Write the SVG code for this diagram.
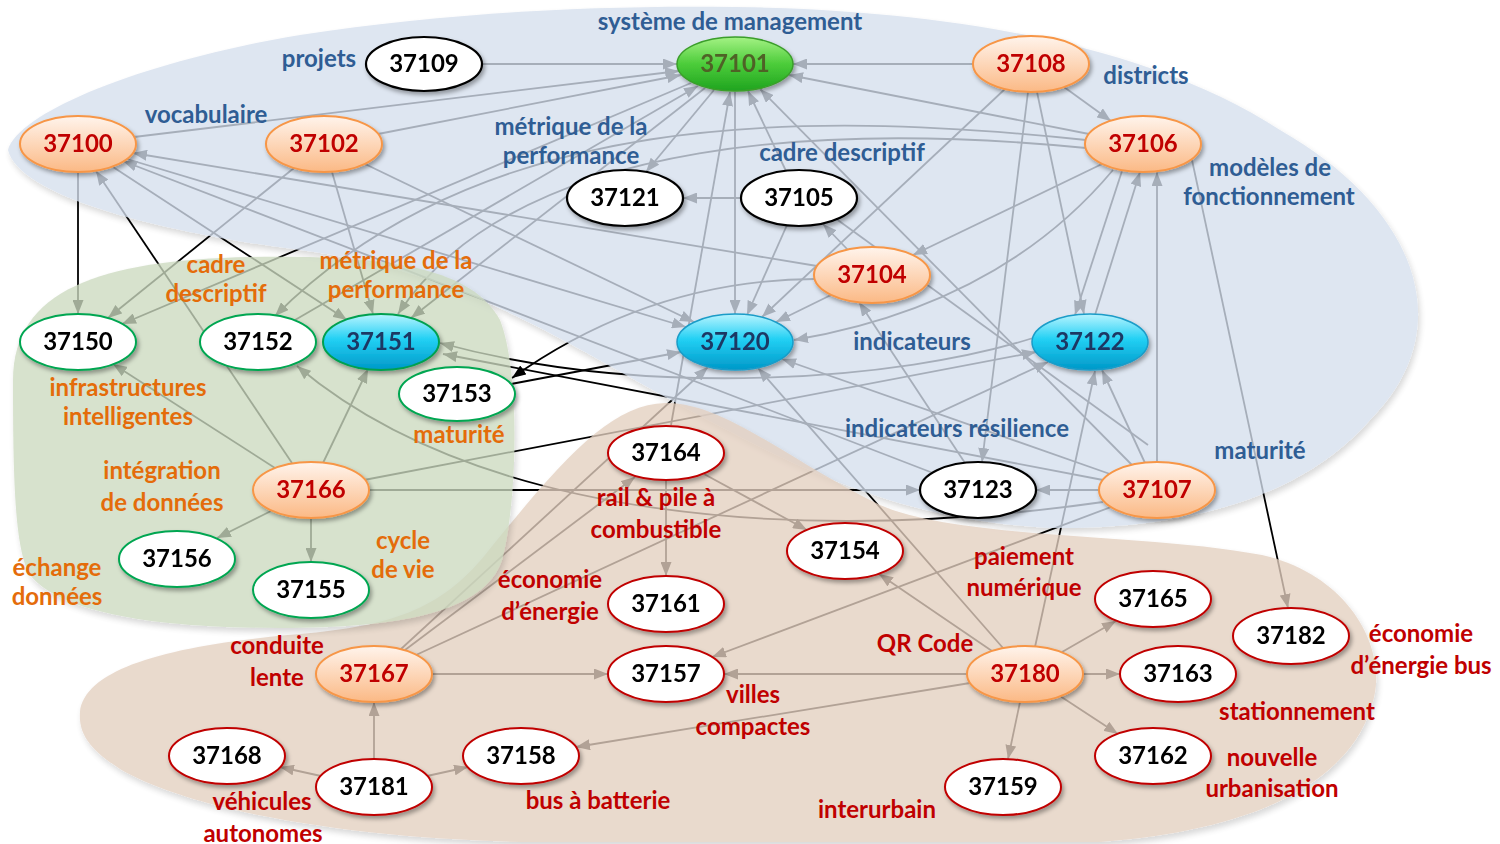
<svg xmlns="http://www.w3.org/2000/svg" width="1500" height="844" viewBox="0 0 1500 844">
<defs>
<style>
.c{fill:none;stroke:#000;stroke-width:1.8;marker-end:url(#ah)}
.c0{fill:none;stroke:#000;stroke-width:1.8}
.reg{opacity:0.78}
.node{filter:url(#sh)}
.nw{fill:#fff;stroke:#000;stroke-width:2.2}
.ng{fill:#fff;stroke:#00a651;stroke-width:2}
.nr{fill:#fff;stroke:#c00000;stroke-width:2}
.no{fill:url(#gOr);stroke:#f79646;stroke-width:2}
.nc{fill:url(#gCy);stroke:#1a9cc8;stroke-width:1.5}
.ncg{fill:url(#gCy);stroke:#00a050;stroke-width:2}
.ngr{fill:url(#gGr);stroke:#3a9e2a;stroke-width:1.5}
text{font-family:Lato,"Open Sans","Liberation Sans",sans-serif;font-weight:700;text-anchor:middle}
.nt{font-size:24px;fill:#000}
.ntr{font-size:24px;fill:#c00000}
.ntb{font-size:24px;fill:#1f3864}
.ntg{font-size:24px;fill:#4f6228}
.lb{font-size:24px;fill:#2f5d94}
.lo{font-size:24px;fill:#e46c0a}
.lr{font-size:24px;fill:#c00000}
</style>
<marker id="ah" viewBox="0 0 10 10" refX="10" refY="5" markerWidth="14" markerHeight="11" markerUnits="userSpaceOnUse" orient="auto" preserveAspectRatio="none"><path d="M0,0 L10,5 L0,10 z" fill="#000"/></marker>
<linearGradient id="gOr" x1="0" y1="0" x2="0" y2="1"><stop offset="0" stop-color="#fff4ec"/><stop offset="1" stop-color="#fbb985"/></linearGradient>
<linearGradient id="gGr" x1="0" y1="0" x2="0" y2="1"><stop offset="0" stop-color="#a4f284"/><stop offset="0.5" stop-color="#4ccc3a"/><stop offset="1" stop-color="#1fa41f"/></linearGradient>
<linearGradient id="gCy" x1="0" y1="0" x2="0" y2="1"><stop offset="0" stop-color="#b8f4ff"/><stop offset="0.45" stop-color="#22d0f4"/><stop offset="1" stop-color="#0098c8"/></linearGradient>
<filter id="sh" x="-20%" y="-30%" width="150%" height="170%"><feDropShadow dx="2" dy="3" stdDeviation="2" flood-color="#000" flood-opacity="0.35"/></filter>
<filter id="rsh" x="-5%" y="-5%" width="110%" height="115%"><feDropShadow dx="2" dy="4" stdDeviation="3" flood-color="#000" flood-opacity="0.2"/></filter>
</defs>
<rect width="1500" height="844" fill="#fff"/>
<g id="connectors">
<line class="c" x1="482" y1="64" x2="677" y2="64"/>
<line class="c" x1="973" y1="64" x2="793" y2="64"/>
<line class="c" x1="134" y1="137" x2="679" y2="71"/>
<line class="c" x1="378" y1="134" x2="681" y2="75"/>
<line class="c" x1="295" y1="320" x2="698" y2="86"/>
<line class="c" x1="1089" y1="134" x2="789" y2="75"/>
<line class="c" x1="1132" y1="465" x2="760" y2="89"/>
<line class="c" x1="786" y1="171" x2="748" y2="91"/>
<line class="c" x1="671" y1="425" x2="730" y2="92"/>
<line class="c" x1="735" y1="92" x2="735" y2="314"/>
<line class="c" x1="714" y1="90" x2="646" y2="172"/>
<line class="c" x1="705" y1="88" x2="411" y2="318"/>
<line class="c" x1="691" y1="83" x2="122" y2="324"/>
<line class="c" x1="741" y1="198" x2="683" y2="198"/>
<line class="c" x1="787" y1="225" x2="747" y2="315"/>
<line class="c" x1="848" y1="250" x2="823" y2="224"/>
<line class="c" x1="831" y1="295" x2="776" y2="322"/>
<line class="c" x1="1005" y1="89" x2="762" y2="317"/>
<line class="c" x1="1064" y1="87" x2="1111" y2="121"/>
<line class="c" x1="1037" y1="92" x2="1084" y2="314"/>
<line class="c" x1="1028" y1="92" x2="982" y2="462"/>
<line class="c" x1="1122" y1="171" x2="1075" y2="315"/>
<line class="c" x1="1095" y1="315" x2="1140" y2="172"/>
<line class="c" x1="1157" y1="462" x2="1157" y2="172"/>
<line class="c" x1="1192" y1="160" x2="1288" y2="608"/>
<line class="c" x1="1102" y1="164" x2="913" y2="255"/>
<path class="c" d="M1113,170 Q1000,305 794,340"/>
<path class="c" d="M1086,140 C800,110 480,110 275,316"/>
<path class="c" d="M1086,148 C850,125 520,130 398,314"/>
<line class="c" x1="78" y1="172" x2="78" y2="314"/>
<line class="c" x1="292" y1="463" x2="96" y2="171"/>
<line class="c" x1="113" y1="167" x2="347" y2="320"/>
<line class="c" x1="817" y1="266" x2="133" y2="153"/>
<line class="c" x1="127" y1="159" x2="686" y2="327"/>
<line class="c" x1="933" y1="473" x2="123" y2="161"/>
<line class="c" x1="332" y1="172" x2="373" y2="314"/>
<line class="c" x1="294" y1="168" x2="108" y2="318"/>
<line class="c" x1="365" y1="164" x2="694" y2="322"/>
<path class="c" d="M815,279 Q650,280 512,378"/>
<line class="c" x1="511" y1="384" x2="681" y2="352"/>
<line class="c" x1="364" y1="480" x2="1036" y2="352"/>
<line class="c" x1="416" y1="655" x2="1048" y2="362"/>
<line class="c" x1="405" y1="650" x2="635" y2="477"/>
<line class="c" x1="401" y1="649" x2="708" y2="367"/>
<line class="c" x1="432" y1="674" x2="608" y2="674"/>
<line class="c" x1="374" y1="759" x2="374" y2="702"/>
<line class="c" x1="321" y1="776" x2="280" y2="767"/>
<line class="c" x1="427" y1="776" x2="468" y2="767"/>
<line class="c" x1="666" y1="481" x2="666" y2="576"/>
<line class="c" x1="704" y1="474" x2="807" y2="530"/>
<line class="c" x1="967" y1="674" x2="724" y2="674"/>
<line class="c" x1="970" y1="683" x2="576" y2="747"/>
<line class="c" x1="992" y1="651" x2="879" y2="574"/>
<line class="c" x1="1062" y1="652" x2="1116" y2="621"/>
<line class="c" x1="1083" y1="674" x2="1120" y2="674"/>
<line class="c" x1="1060" y1="696" x2="1118" y2="734"/>
<line class="c" x1="1020" y1="702" x2="1008" y2="759"/>
<line class="c" x1="1035" y1="647" x2="1095" y2="371"/>
<line class="c" x1="1003" y1="648" x2="758" y2="368"/>
<line class="c" x1="1099" y1="490" x2="1036" y2="490"/>
<line class="c" x1="1145" y1="463" x2="1102" y2="370"/>
<line class="c" x1="1110" y1="474" x2="782" y2="359"/>
<line class="c" x1="1111" y1="507" x2="712" y2="657"/>
<line class="c" x1="1103" y1="480" x2="443" y2="354"/>
<path class="c" d="M1033,338 C900,380 650,400 440,343"/>
<path class="c" d="M1103,502 C800,545 480,520 297,366"/>
<line class="c" x1="965" y1="463" x2="859" y2="302"/>
<line class="c0" x1="835" y1="218" x2="1148" y2="445"/>
<line class="c" x1="369" y1="490" x2="920" y2="490"/>
<line class="c" x1="275" y1="468" x2="113" y2="364"/>
<line class="c" x1="323" y1="463" x2="368" y2="369"/>
<line class="c" x1="271" y1="511" x2="217" y2="538"/>
<line class="c" x1="311" y1="518" x2="311" y2="562"/>
</g>
<g id="regions">
<path id="region-blue" class="reg" filter="url(#rsh)" fill="#d5dfee" d="M8,150 C20,110 150,60 300,35 C450,12 600,5 735,7 C950,10 1150,45 1280,130 C1420,210 1460,330 1370,420 C1300,500 1180,530 1050,528 C900,520 800,470 680,405 C560,340 460,270 300,250 C180,235 20,200 8,150 Z"/>
<path id="region-brown" class="reg" filter="url(#rsh)" fill="#e4d0c0" d="M80,712 C85,668 170,645 300,634 C390,626 440,610 485,555 C560,462 610,404 665,403 C725,402 790,462 880,505 C960,540 1150,533 1262,555 C1350,575 1390,650 1372,705 C1350,780 1260,830 1100,842 L520,842 C350,838 200,812 125,772 C92,752 78,735 80,712 Z"/>
<path id="region-green" class="reg" filter="url(#rsh)" fill="#ccdac0" d="M13,380 C13,290 100,260 250,257 C380,255 470,265 500,320 C520,370 518,500 502,560 C485,612 400,628 280,628 C150,628 60,612 30,575 C14,550 13,470 13,380 Z"/>
</g>
<g id="labels">
<text class="lb" x="730" y="30">système de management</text>
<text class="lb" x="319" y="67">projets</text>
<text class="lb" x="206" y="123">vocabulaire</text>
<text class="lb" x="571" y="135">métrique de la</text>
<text class="lb" x="571" y="164">performance</text>
<text class="lb" x="842" y="161">cadre descriptif</text>
<text class="lb" x="1146" y="84">districts</text>
<text class="lb" x="1270" y="176">modèles de</text>
<text class="lb" x="1269" y="205">fonctionnement</text>
<text class="lb" x="912" y="350">indicateurs</text>
<text class="lb" x="957" y="437">indicateurs résilience</text>
<text class="lb" x="1260" y="459">maturité</text>
<text class="lo" x="216" y="273">cadre</text>
<text class="lo" x="216" y="302">descriptif</text>
<text class="lo" x="396" y="269">métrique de la</text>
<text class="lo" x="396" y="298">performance</text>
<text class="lo" x="128" y="396">infrastructures</text>
<text class="lo" x="128" y="425">intelligentes</text>
<text class="lo" x="459" y="443">maturité</text>
<text class="lo" x="162" y="479">intégration</text>
<text class="lo" x="162" y="511">de données</text>
<text class="lo" x="403" y="549">cycle</text>
<text class="lo" x="403" y="578">de vie</text>
<text class="lo" x="57" y="576">échange</text>
<text class="lo" x="57" y="605">données</text>
<text class="lr" x="656" y="506">rail &amp; pile à</text>
<text class="lr" x="656" y="538">combustible</text>
<text class="lr" x="550" y="588">économie</text>
<text class="lr" x="550" y="620">d’énergie</text>
<text class="lr" x="1024" y="565">paiement</text>
<text class="lr" x="1024" y="596">numérique</text>
<text class="lr" x="925" y="652">QR Code</text>
<text class="lr" x="1421" y="642">économie</text>
<text class="lr" x="1421" y="674">d’énergie bus</text>
<text class="lr" x="277" y="654">conduite</text>
<text class="lr" x="277" y="686">lente</text>
<text class="lr" x="753" y="703">villes</text>
<text class="lr" x="753" y="735">compactes</text>
<text class="lr" x="1297" y="720">stationnement</text>
<text class="lr" x="1272" y="766">nouvelle</text>
<text class="lr" x="1272" y="797">urbanisation</text>
<text class="lr" x="877" y="818">interurbain</text>
<text class="lr" x="598" y="809">bus à batterie</text>
<text class="lr" x="262" y="810">véhicules</text>
<text class="lr" x="263" y="842">autonomes</text>
</g>
<g id="nodes">
<g id="n37109" class="node"><ellipse class="nw" cx="424" cy="64" rx="58" ry="27"/><text class="nt" x="424" y="72">37109</text></g>
<g id="n37101" class="node"><ellipse class="ngr" cx="735" cy="64" rx="58" ry="27"/><text class="ntg" x="735" y="72">37101</text></g>
<g id="n37108" class="node"><ellipse class="no" cx="1031" cy="64" rx="58" ry="28"/><text class="ntr" x="1031" y="72">37108</text></g>
<g id="n37100" class="node"><ellipse class="no" cx="78" cy="144" rx="58" ry="28"/><text class="ntr" x="78" y="152">37100</text></g>
<g id="n37102" class="node"><ellipse class="no" cx="324" cy="144" rx="58" ry="28"/><text class="ntr" x="324" y="152">37102</text></g>
<g id="n37106" class="node"><ellipse class="no" cx="1143" cy="144" rx="58" ry="28"/><text class="ntr" x="1143" y="152">37106</text></g>
<g id="n37121" class="node"><ellipse class="nw" cx="625" cy="198" rx="58" ry="28"/><text class="nt" x="625" y="206">37121</text></g>
<g id="n37105" class="node"><ellipse class="nw" cx="799" cy="198" rx="58" ry="28"/><text class="nt" x="799" y="206">37105</text></g>
<g id="n37104" class="node"><ellipse class="no" cx="872" cy="275" rx="58" ry="28"/><text class="ntr" x="872" y="283">37104</text></g>
<g id="n37150" class="node"><ellipse class="ng" cx="78" cy="342" rx="58" ry="28"/><text class="nt" x="78" y="350">37150</text></g>
<g id="n37152" class="node"><ellipse class="ng" cx="258" cy="342" rx="58" ry="28"/><text class="nt" x="258" y="350">37152</text></g>
<g id="n37151" class="node"><ellipse class="ncg" cx="381" cy="342" rx="58" ry="28"/><text class="ntb" x="381" y="350">37151</text></g>
<g id="n37120" class="node"><ellipse class="nc" cx="735" cy="342" rx="58" ry="28"/><text class="ntb" x="735" y="350">37120</text></g>
<g id="n37122" class="node"><ellipse class="nc" cx="1090" cy="342" rx="58" ry="28"/><text class="ntb" x="1090" y="350">37122</text></g>
<g id="n37153" class="node"><ellipse class="ng" cx="457" cy="394" rx="58" ry="27"/><text class="nt" x="457" y="402">37153</text></g>
<g id="n37164" class="node"><ellipse class="nr" cx="666" cy="453" rx="58" ry="27"/><text class="nt" x="666" y="461">37164</text></g>
<g id="n37166" class="node"><ellipse class="no" cx="311" cy="490" rx="58" ry="28"/><text class="ntr" x="311" y="498">37166</text></g>
<g id="n37123" class="node"><ellipse class="nw" cx="978" cy="490" rx="58" ry="28"/><text class="nt" x="978" y="498">37123</text></g>
<g id="n37107" class="node"><ellipse class="no" cx="1157" cy="490" rx="58" ry="28"/><text class="ntr" x="1157" y="498">37107</text></g>
<g id="n37156" class="node"><ellipse class="ng" cx="177" cy="559" rx="58" ry="28"/><text class="nt" x="177" y="567">37156</text></g>
<g id="n37154" class="node"><ellipse class="nr" cx="845" cy="551" rx="58" ry="28"/><text class="nt" x="845" y="559">37154</text></g>
<g id="n37155" class="node"><ellipse class="ng" cx="311" cy="590" rx="58" ry="28"/><text class="nt" x="311" y="598">37155</text></g>
<g id="n37161" class="node"><ellipse class="nr" cx="666" cy="604" rx="58" ry="28"/><text class="nt" x="666" y="612">37161</text></g>
<g id="n37165" class="node"><ellipse class="nr" cx="1153" cy="599" rx="58" ry="28"/><text class="nt" x="1153" y="607">37165</text></g>
<g id="n37182" class="node"><ellipse class="nr" cx="1291" cy="636" rx="58" ry="28"/><text class="nt" x="1291" y="644">37182</text></g>
<g id="n37167" class="node"><ellipse class="no" cx="374" cy="674" rx="58" ry="28"/><text class="ntr" x="374" y="682">37167</text></g>
<g id="n37157" class="node"><ellipse class="nr" cx="666" cy="674" rx="58" ry="28"/><text class="nt" x="666" y="682">37157</text></g>
<g id="n37180" class="node"><ellipse class="no" cx="1025" cy="674" rx="58" ry="28"/><text class="ntr" x="1025" y="682">37180</text></g>
<g id="n37163" class="node"><ellipse class="nr" cx="1178" cy="674" rx="58" ry="28"/><text class="nt" x="1178" y="682">37163</text></g>
<g id="n37168" class="node"><ellipse class="nr" cx="227" cy="756" rx="58" ry="28"/><text class="nt" x="227" y="764">37168</text></g>
<g id="n37181" class="node"><ellipse class="nr" cx="374" cy="787" rx="58" ry="28"/><text class="nt" x="374" y="795">37181</text></g>
<g id="n37158" class="node"><ellipse class="nr" cx="521" cy="756" rx="58" ry="28"/><text class="nt" x="521" y="764">37158</text></g>
<g id="n37159" class="node"><ellipse class="nr" cx="1003" cy="787" rx="58" ry="28"/><text class="nt" x="1003" y="795">37159</text></g>
<g id="n37162" class="node"><ellipse class="nr" cx="1153" cy="756" rx="58" ry="28"/><text class="nt" x="1153" y="764">37162</text></g>
</g>
</svg>
